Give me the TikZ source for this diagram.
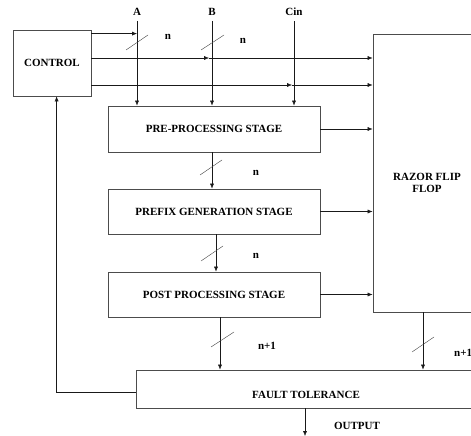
\documentclass[tikz,border=0pt]{standalone}
\usepackage{fontspec}
\setmainfont{Liberation Serif}
\usetikzlibrary{arrows.meta}
\tikzset{
  block/.style={draw, thick, gray!60!black, text=black, align=center, inner sep=0pt},
  arr/.style={-{Latex[length=5pt,width=4pt]}, gray!20!black},
  bus/.style={gray!50!black},
  lbl/.style={inner sep=0pt}
}
\begin{document}
\begin{tikzpicture}[x=1pt,y=-1pt,font=\fontsize{11}{12.5}\selectfont\bfseries]
    \useasboundingbox (0,0) rectangle (471,436);
    \clip (0,0) rectangle (471,436);
    % blocks
    \node[block, minimum width=78pt, minimum height=66pt] (control) at (52,63) {CONTROL};
    \node[block, minimum width=212pt, minimum height=46pt] (pre) at (214,129) {PRE-PROCESSING STAGE};
    \node[block, minimum width=212pt, minimum height=45pt] (prefix) at (214,211.5) {PREFIX GENERATION STAGE};
    \node[block, minimum width=212pt, minimum height=45pt] (post) at (214,294.5) {POST PROCESSING STAGE};
    \node[block, minimum width=110pt, minimum height=278pt] (razor) at (428,173) {};
    \node[lbl, align=center] (razortext) at (427,183) {RAZOR FLIP\\FLOP};
    \node[block, minimum width=350pt, minimum height=38pt] (fault) at (311,389) {};
    \node[lbl] (faulttext) at (306,395) {FAULT TOLERANCE};
    % inputs
    \node[lbl] (A) at (137,12) {A};
    \node[lbl] (B) at (212,12) {B};
    \node[lbl] (Cin) at (294,12) {Cin};
    \draw[arr] ([yshift=-5pt]A.south) -- (A |- pre.north);
    \draw[arr] ([yshift=-5pt]B.south) -- (B |- pre.north);
    \draw[arr] ([yshift=-5pt]Cin.south) -- (Cin |- pre.north);
    % control lines
    \draw[arr] ([yshift=-4pt]control.north east) -- ([yshift=-4pt]control.north east -| A);
    \draw[arr] ([yshift=5pt]control.east) -- ([yshift=5pt,xshift=-3pt]control.east -| B);
    \draw[arr] ([yshift=5pt,xshift=-3pt]control.east -| B) -- ([yshift=5pt]control.east -| razor.west);
    \draw[arr] ([yshift=-22pt]control.east) -- ([yshift=-22pt,xshift=-2pt]control.east -| Cin);
    \draw[arr] ([yshift=-22pt,xshift=-2pt]control.east -| Cin) -- ([yshift=-22pt]control.east -| razor.west);
    % stages to razor
    \draw[arr] (pre.east) -- (pre.east -| razor.west);
    \draw[arr] (prefix.east) -- (prefix.east -| razor.west);
    \draw[arr] (post.east) -- (post.east -| razor.west);
    % between stages
    \draw[arr] ([xshift=-2pt]pre.south) -- ([xshift=-2pt]prefix.north);
    \draw[arr] ([xshift=2pt]prefix.south) -- ([xshift=2pt]post.north);
    \draw[arr] ([xshift=6pt]post.south) -- ([xshift=6pt]post.south |- fault.north);
    \draw[arr] ([xshift=-5pt]razor.south) -- ([xshift=-5pt]razor.south |- fault.north);
    % feedback and output
    \draw[arr] ([yshift=-3pt]fault.west) -| ([xshift=44pt]control.south west);
    \coordinate (out) at (305,436);
    \draw[arr] (fault.south -| out) -- (out);
    \node[lbl] (output) at (357,426) {OUTPUT};
    % bus marks
    \draw[bus] (126,50) -- (148,35);
    \draw[bus] (201,50) -- (224,35);
    \draw[bus] (200,175) -- (222,160);
    \draw[bus] (201,261) -- (223,246);
    \draw[bus] (211,347) -- (234,332);
    \draw[bus] (412,352) -- (434,337);
    % widths
    \node[lbl] (n1) at (168,37) {n};
    \node[lbl] (n2) at (243,41) {n};
    \node[lbl] (n3) at (256,173) {n};
    \node[lbl] (n4) at (256,256) {n};
    \node[lbl] (n5) at (267,346) {n+1};
    \node[lbl, anchor=west] (n6) at (454,353) {n+1};
\end{tikzpicture}
\end{document}
